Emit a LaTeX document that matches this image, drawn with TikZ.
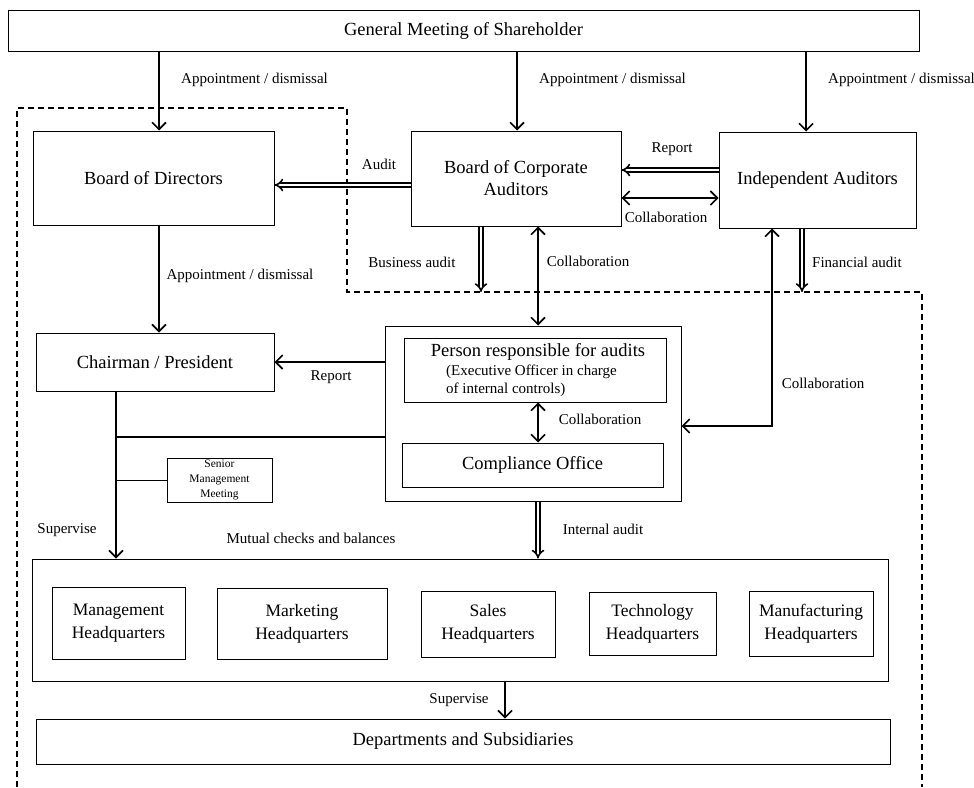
\documentclass[tikz,border=0pt]{standalone}
\usepackage{fontspec}
\setmainfont{Liberation Serif}
\usetikzlibrary{arrows.meta}

\newcommand\boxfont{\fontsize{18.5}{22}\selectfont}
\newcommand\hqfont{\fontsize{17.5}{23}\selectfont}
\newcommand\lblfont{\fontsize{15}{18}\selectfont}
\newcommand\subfont{\fontsize{15}{18}\selectfont}
\newcommand\tinyfont{\fontsize{11.5}{15}\selectfont}

\begin{document}
\begin{tikzpicture}[x=1pt,y=-1pt,
      box/.style={draw,line width=1pt,inner sep=0pt,align=center,font=\boxfont},
      hqbox/.style={box,font=\hqfont},
      lbl/.style={inner sep=0pt,font=\lblfont},
      arr/.style={line width=1.6pt,-{Straight Barb[length=7pt,width=14pt]}},
      both/.style={line width=1.6pt,{Straight Barb[length=7pt,width=14pt]}-{Straight Barb[length=7pt,width=14pt]}},
      dbl/.style={double,double distance=2.6pt,line width=1.6pt,-{Implies}},
      wire/.style={line width=1.6pt}
     ]
    \useasboundingbox (0,0) rectangle (974,787);

    % boxes
    \node[box,minimum width=911pt,minimum height=41pt] (gms) at (463.5,30.5) {General Meeting of Shareholder};
    \node[box,minimum width=241pt,minimum height=94pt] (bod) at (153.5,178) {Board of Directors};
    \node[box,minimum width=210pt,minimum height=95pt] (bca) at (516,178.5) {Board of Corporate\\Auditors};
    \node[box,minimum width=197pt,minimum height=96pt] (ia) at (817.5,180) {Independent Auditors};
    \node[box,minimum width=238pt,minimum height=58pt] (chair) at (155,362) {Chairman / President};
    \node[box,minimum width=296pt,minimum height=175pt] (audbox) at (533,413.5) {};
    \node[box,minimum width=262pt,minimum height=64pt] (resp) at (535,370) {};
    \node[inner sep=0pt,font=\boxfont] (resp-t) at (538,352) {Person responsible for audits};
    \node[inner sep=0pt,anchor=west,align=left,font=\subfont] (resp-s) at (446,381) {(Executive Officer in charge\\of internal controls)};
    \node[box,minimum width=261pt,minimum height=44pt] (comp) at (532.5,465) {Compliance Office};
    \node[box,font=\tinyfont,minimum width=105pt,minimum height=44pt] (smm) at (219.5,480) {Senior\\Management\\Meeting};
    \node[box,minimum width=856pt,minimum height=122pt] (hq) at (460,620) {};
    \node[hqbox,minimum width=133pt,minimum height=72pt] (mgmt) at (118.5,623) {Management\\Headquarters};
    \node[hqbox,minimum width=170pt,minimum height=71pt] (mkt) at (302,623.5) {Marketing\\Headquarters};
    \node[hqbox,minimum width=134pt,minimum height=66pt] (sales) at (488,624) {Sales\\Headquarters};
    \node[hqbox,minimum width=127pt,minimum height=63pt] (tech) at (652.5,623.5) {Technology\\Headquarters};
    \node[hqbox,minimum width=124pt,minimum height=65pt] (manu) at (811,623.5) {Manufacturing\\Headquarters};
    \node[box,minimum width=854pt,minimum height=45pt] (dept) at (463,741.5) {Departments and Subsidiaries};

    % dashed frame
    \draw[line width=2.2pt,dash pattern=on 6pt off 4pt]
        (17,787) -- (17,108) -- (347,108) -- (347,292) -- (922,292) -- (922,787);

    % anchors for connectors
    \coordinate (x1) at (159,0);
    \coordinate (x2) at (517,0);
    \coordinate (x3) at (806,0);
    \coordinate (xc) at (538,0);
    \coordinate (xs) at (116,0);
    \coordinate (xd) at (505,0);
    \coordinate (ya) at (0,185);
    \coordinate (yr) at (0,170);
    \coordinate (yc) at (0,198);
    \coordinate (yp) at (0,362);
    \coordinate (yh) at (0,437);
    \coordinate (ba) at (481,292);
    \coordinate (fa) at (802,292);
    \coordinate (cc) at (772,426);

    \draw[arr] (gms.south -| x1) -- (bod.north -| x1);
    \draw[arr] (gms.south -| x2) -- (bca.north -| x2);
    \draw[arr] (gms.south -| x3) -- (ia.north -| x3);
    \draw[dbl] (bca.west |- ya) -- (bod.east |- ya);
    \draw[dbl] (ia.west |- yr) -- (bca.east |- yr);
    \draw[both] (bca.east |- yc) -- (ia.west |- yc);
    \draw[dbl] (bca.south -| ba) -- (ba);
    \draw[dbl] (ia.south -| fa) -- (fa);
    \draw[both] (bca.south -| xc) -- (audbox.north -| xc);
    \draw[both] (audbox.east |- cc) -| (ia.south -| cc);
    \draw[arr] (bod.south -| x1) -- (chair.north -| x1);
    \draw[arr] (audbox.west |- yp) -- (chair.east |- yp);
    \draw[both] (resp.south -| xc) -- (comp.north -| xc);
    \draw[arr] (chair.south -| xs) -- (hq.north -| xs);
    \draw[wire] (xs |- yh) -- (audbox.west |- yh);
    \draw[line width=1pt] (xs |- smm.west) -- (smm.west);
    \draw[dbl] (audbox.south -| xc) -- (hq.north -| xc);
    \draw[arr] (hq.south -| xd) -- (dept.north -| xd);

    % labels
    \node[lbl,anchor=west] (ap1) at (181,80) {Appointment / dismissal};
    \node[lbl,anchor=west] (ap2) at (539,80) {Appointment / dismissal};
    \node[lbl,anchor=west] (ap3) at (828,80) {Appointment / dismissal};
    \node[lbl] (aud) at (379,164) {Audit};
    \node[lbl] (rep1) at (672,149) {Report};
    \node[lbl] (col1) at (666,217) {Collaboration};
    \node[lbl] (busaud) at (412,262) {Business audit};
    \node[lbl] (col2) at (588,261) {Collaboration};
    \node[lbl] (finaud) at (857,262) {Financial audit};
    \node[lbl] (ap4) at (240,276) {Appointment / dismissal};
    \node[lbl] (rep2) at (331,377) {Report};
    \node[lbl] (col3) at (823,383) {Collaboration};
    \node[lbl] (col4) at (600,419) {Collaboration};
    \node[lbl] (sup1) at (67,530) {Supervise};
    \node[lbl] (mutual) at (311,538) {Mutual checks and balances};
    \node[lbl] (intaud) at (603,529) {Internal audit};
    \node[lbl] (sup2) at (459,700) {Supervise};
\end{tikzpicture}
\end{document}
